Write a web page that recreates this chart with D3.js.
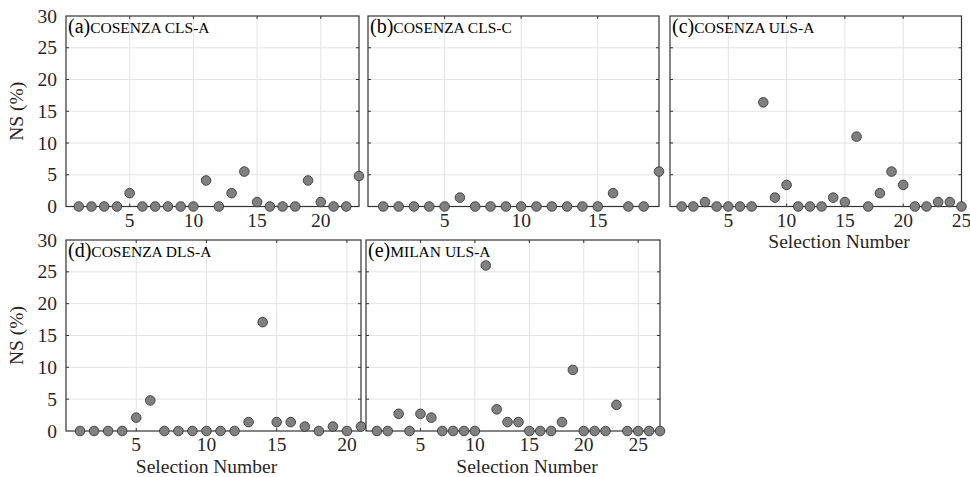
<!DOCTYPE html>
<html>
<head>
<meta charset="utf-8">
<script src="https://cdn.jsdelivr.net/npm/d3@7"></script>
<style>
  html, body { margin: 0; padding: 0; background: #fff; }
  svg { display: block; }
  svg text { font-family: "Liberation Serif", "DejaVu Serif", "Times New Roman", serif; }
</style>
</head>
<body>
<svg id="chart" width="970" height="477"></svg>
<script>
// NS (%) for each selection, one array per site / limit state
const nsA = [0, 0, 0, 0, 2.1, 0, 0, 0, 0, 0, 4.1, 0, 2.1, 5.5, 0.7, 0, 0, 0, 4.1, 0.7, 0, 0, 4.8];
const nsB = [0, 0, 0, 0, 0, 1.4, 0, 0, 0, 0, 0, 0, 0, 0, 0, 2.1, 0, 0, 5.5];
const nsC = [0, 0, 0.7, 0, 0, 0, 0, 16.4, 1.4, 3.4, 0, 0, 0, 1.4, 0.7, 11.0, 0, 2.1, 5.5, 3.4, 0, 0, 0.7, 0.7, 0];
const nsD = [0, 0, 0, 0, 2.1, 4.8, 0, 0, 0, 0, 0, 0, 1.4, 17.1, 1.4, 1.4, 0.7, 0, 0.7, 0, 0.7];
const nsE = [0, 0, 2.7, 0, 2.7, 2.1, 0, 0, 0, 0, 26.0, 3.4, 1.4, 1.4, 0, 0, 0, 1.4, 9.6, 0, 0, 0, 4.1, 0, 0, 0, 0];

const panelTags = ["(a)", "(b)", "(c)", "(d)", "(e)"];
const panelNames = ["COSENZA CLS-A", "COSENZA CLS-C", "COSENZA ULS-A", "COSENZA DLS-A", "MILAN ULS-A"];
const yTicks = [0, 5, 10, 15, 20, 25, 30];
const xTickSets = [
  [5, 10, 15, 20],
  [5, 10, 15],
  [5, 10, 15, 20, 25],
  [5, 10, 15, 20],
  [5, 10, 15, 20, 25]
];
const yLabel = "NS (%)";
const xLabel = "Selection Number";

const series = [nsA, nsB, nsC, nsD, nsE];

// axes boxes in page pixels; xTitleX = centre of the x-axis title (null = none)
const layout = [
  { x0: 66,  x1: 359,   y0: 16,  y1: 206.5, yLabels: true,  xTitleX: null },
  { x0: 368, x1: 659,   y0: 16,  y1: 206.5, yLabels: false, xTitleX: null },
  { x0: 670, x1: 961.5, y0: 16,  y1: 206.5, yLabels: false, xTitleX: 839 },
  { x0: 66,  x1: 361,   y0: 240, y1: 431,   yLabels: true,  xTitleX: 206.5 },
  { x0: 366, x1: 660,   y0: 240, y1: 431,   yLabels: false, xTitleX: 527 }
];

const FONT = "'Liberation Serif', 'DejaVu Serif', 'Times New Roman', serif";
const svg = d3.select("#chart").attr("font-family", FONT);
const axisColor = "#333333";
const gridColor = "#e3e3e3";
const textColor = "#262626";
const tickLen = 3;

layout.forEach((L, i) => {
  const vals = series[i];
  const x = d3.scaleLinear().domain([0, vals.length]).range([L.x0, L.x1]);
  const y = d3.scaleLinear().domain([0, 30]).range([L.y1, L.y0]);
  const g = svg.append("g");

  // white plot background (covers anything from panels above)
  g.append("rect")
    .attr("x", L.x0).attr("y", L.y0)
    .attr("width", L.x1 - L.x0).attr("height", L.y1 - L.y0)
    .attr("fill", "#fff");

  const xt = xTickSets[i];
  const ty = yTicks.slice(1, -1);

  // grid
  g.selectAll(".gx").data(xt).join("line")
    .attr("x1", d => x(d)).attr("x2", d => x(d))
    .attr("y1", L.y0).attr("y2", L.y1)
    .attr("stroke", gridColor).attr("stroke-width", 1);
  g.selectAll(".gy").data(ty).join("line")
    .attr("x1", L.x0).attr("x2", L.x1)
    .attr("y1", d => y(d)).attr("y2", d => y(d))
    .attr("stroke", gridColor).attr("stroke-width", 1);

  // inward ticks on all four sides
  g.selectAll(".tb").data(xt).join("line")
    .attr("x1", d => x(d)).attr("x2", d => x(d))
    .attr("y1", L.y1).attr("y2", L.y1 - tickLen)
    .attr("stroke", axisColor);
  g.selectAll(".tt").data(xt).join("line")
    .attr("x1", d => x(d)).attr("x2", d => x(d))
    .attr("y1", L.y0).attr("y2", L.y0 + tickLen)
    .attr("stroke", axisColor);
  g.selectAll(".tl").data(ty).join("line")
    .attr("x1", L.x0).attr("x2", L.x0 + tickLen)
    .attr("y1", d => y(d)).attr("y2", d => y(d))
    .attr("stroke", axisColor);
  g.selectAll(".tr").data(ty).join("line")
    .attr("x1", L.x1).attr("x2", L.x1 - tickLen)
    .attr("y1", d => y(d)).attr("y2", d => y(d))
    .attr("stroke", axisColor);

  // box
  g.append("rect")
    .attr("x", L.x0).attr("y", L.y0)
    .attr("width", L.x1 - L.x0).attr("height", L.y1 - L.y0)
    .attr("fill", "none").attr("stroke", axisColor).attr("stroke-width", 1.2);

  // x tick labels
  g.selectAll(".xl").data(xt).join("text")
    .attr("font-family", FONT)
    .attr("x", d => x(d)).attr("y", L.y1 + 20)
    .attr("text-anchor", "middle")
    .attr("font-size", 19.5).attr("fill", textColor)
    .text(d => d);

  if (L.yLabels) {
    g.selectAll(".yl").data(yTicks).join("text")
      .attr("font-family", FONT)
      .attr("x", L.x0 - 9).attr("y", d => y(d) + 6.5)
      .attr("text-anchor", "end")
      .attr("font-size", 19.5).attr("fill", textColor)
      .text(d => d);
    g.append("text")
      .attr("font-family", FONT)
      .attr("transform", `translate(23,${(L.y0 + L.y1) / 2}) rotate(-90)`)
      .attr("text-anchor", "middle")
      .attr("font-size", 19.5).attr("fill", textColor)
      .text(yLabel);
  }

  if (L.xTitleX !== null) {
    g.append("text")
      .attr("font-family", FONT)
      .attr("x", L.xTitleX).attr("y", L.y1 + 41.8)
      .attr("text-anchor", "middle")
      .attr("font-size", 19.5).attr("fill", textColor)
      .text(xLabel);
  }

  // panel title
  const t = g.append("text")
    .attr("font-family", FONT)
    .attr("x", L.x0 + 2).attr("y", L.y0 + 17)
    .attr("fill", "#000");
  t.append("tspan").attr("font-size", 20).text(panelTags[i]);
  t.append("tspan").attr("font-size", 15.5).text(panelNames[i]);

  // markers (not clipped to the box)
  g.selectAll(".pt").data(vals).join("circle")
    .attr("cx", (d, k) => x(k + 1))
    .attr("cy", d => y(d))
    .attr("r", 4.8)
    .attr("fill", "#808080")
    .attr("stroke", "#3a3a3a")
    .attr("stroke-width", 0.9);
});
</script>
</body>
</html>
